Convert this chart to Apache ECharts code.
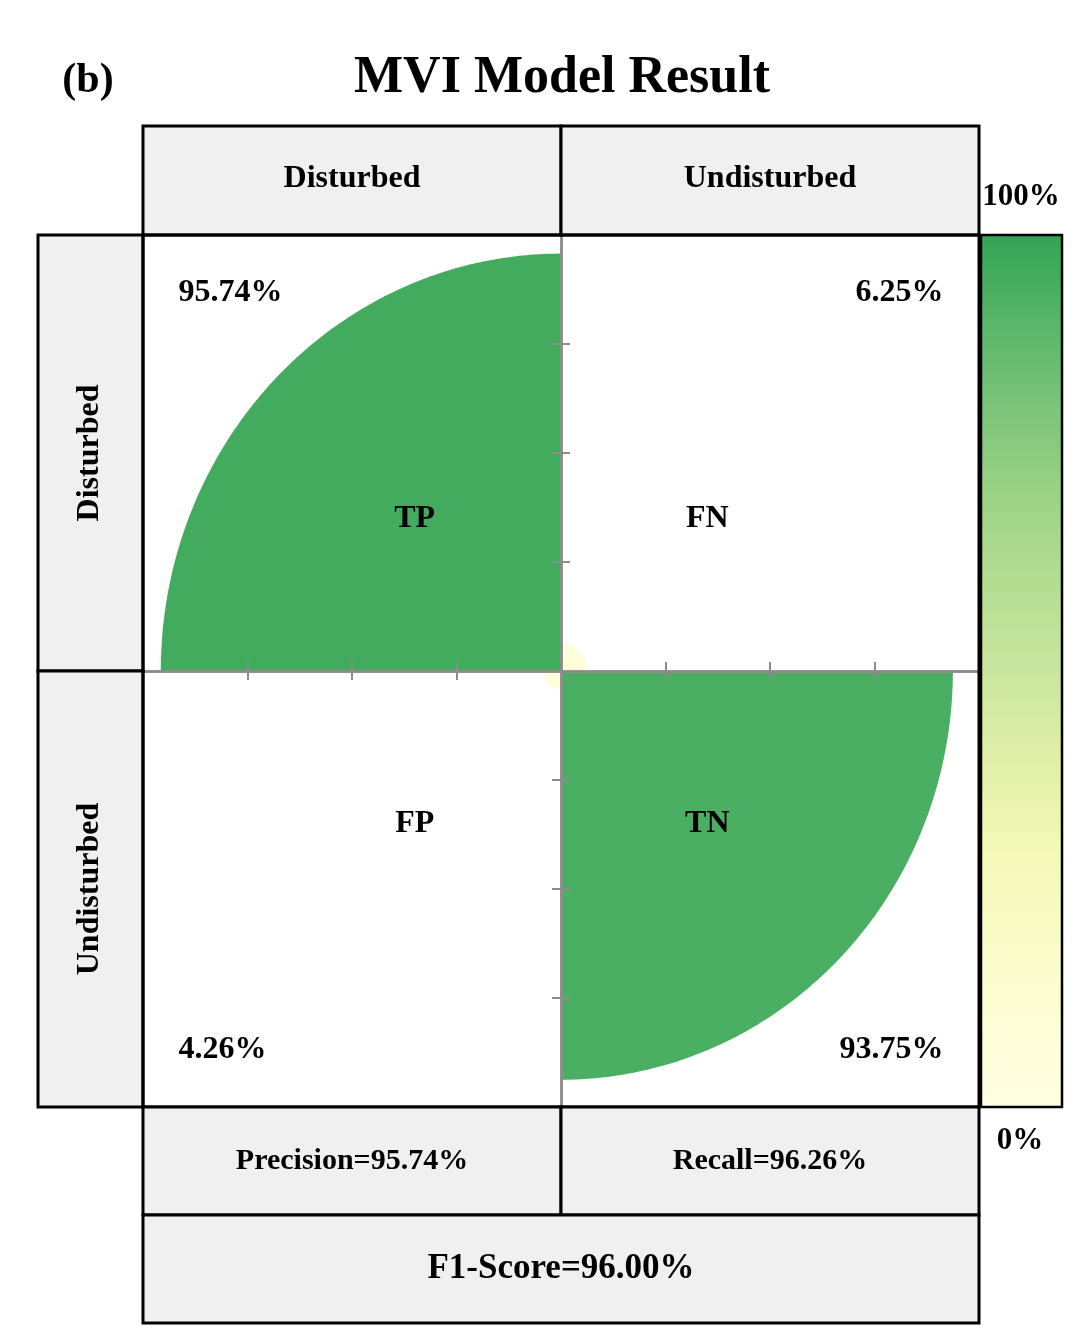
<!DOCTYPE html>
<html>
<head>
<meta charset="utf-8">
<script src="https://cdn.jsdelivr.net/npm/echarts@6/dist/echarts.min.js"></script>
<style>
html,body{margin:0;padding:0;background:#fff;}
#chart{width:1080px;height:1342px;}
</style>
</head>
<body>
<div id="chart"></div>
<script>
// ---- data ----
const panelTag = '(b)';
const chartTitle = 'MVI Model Result';
const classNames = ['Disturbed', 'Undisturbed'];
const cellNames = ['TP', 'FN', 'FP', 'TN'];
const cellRows = [0, 0, 1, 1];
const cellCols = [0, 1, 0, 1];
const cellPercents = [95.74, 6.25, 4.26, 93.75];
const metricNames = ['Precision', 'Recall', 'F1-Score'];
const metricValues = [95.74, 96.26, 96.00];
const colorbarLabels = ['100%', '0%'];
const colorStops = ['#ffffe2', '#fdfdd6', '#fafcc6', '#f3f8b6', '#e0efa8', '#c9e69f', '#b4dd92', '#9cd386', '#7cc47a', '#58b66a', '#32a355'];

// ---- layout ----
const G = { left: 143, top: 235, right: 979, bottom: 1107 };
const midX = (G.left + G.right) / 2;
const midY = (G.top + G.bottom) / 2;
const FONT = '"Liberation Serif", "Times New Roman", serif';
const LW = 3;

function txt(x, y, text, size, extra) {
  return Object.assign({
    type: 'text', x: x, y: y, z: 120,
    style: { text: text, fontFamily: FONT, fontWeight: 'bold', fontSize: size, fill: '#000', align: 'center', verticalAlign: 'middle' }
  }, extra || {});
}
function box(x1, y1, x2, y2, fill) {
  return { type: 'rect', z: 110, shape: { x: x1, y: y1, width: x2 - x1, height: y2 - y1 },
    style: { fill: fill || 'none', stroke: '#000', lineWidth: LW } };
}

const chart = echarts.init(document.getElementById('chart'));

function renderItem(params, api) {
  const col = api.value(0), row = api.value(1), v = api.value(2);
  const sx = col === 0 ? -1 : 1;
  const sy = row === 0 ? 1 : -1;
  const r = v / 100;
  const pts = [api.coord([0, 0])];
  for (let i = 0; i <= 90; i++) {
    const a = i * Math.PI / 180;
    pts.push(api.coord([sx * r * Math.cos(a), sy * r * Math.sin(a)]));
  }
  const idx = params.dataIndex;
  const lp = api.coord([sx * 0.35, sy * 0.35]);
  const pp = api.coord([sx * 0.915, sy * 0.868]);
  return {
    type: 'group',
    children: [
      { type: 'polygon', shape: { points: pts }, style: { fill: api.visual('color'), stroke: null } },
      { type: 'text', x: lp[0], y: lp[1], z2: 10,
        style: { text: cellNames[idx], fontFamily: FONT, fontWeight: 'bold', fontSize: 32, fill: '#000', align: 'center', verticalAlign: 'middle' } },
      { type: 'text', x: pp[0], y: pp[1], z2: 10,
        style: { text: v.toFixed(2) + '%', fontFamily: FONT, fontWeight: 'bold', fontSize: 32, fill: '#000', align: sx < 0 ? 'left' : 'right', verticalAlign: 'middle' } }
    ]
  };
}

const axisGray = '#8c8c8c';
const tickVals = [-0.75, -0.5, -0.25, 0.25, 0.5, 0.75];
function mkAxis(position) {
  return {
    type: 'value', min: -1, max: 1, z: 10, position: position,
    axisLine: { show: true, onZero: true, onZeroAxisIndex: 0, lineStyle: { color: axisGray, width: 2.5 } },
    axisTick: { show: true, inside: false, length: 9, customValues: tickVals, lineStyle: { color: axisGray, width: 2 } },
    axisLabel: { show: false },
    splitLine: { show: false }
  };
}

const graphics = [
  txt(88, 81, panelTag, 42),
  txt(562, 79, chartTitle, 52),
  // top header
  box(G.left, 126, midX, G.top, '#f0f0f0'),
  box(midX, 126, G.right, G.top, '#f0f0f0'),
  txt((G.left + midX) / 2, 179, classNames[0], 32),
  txt((midX + G.right) / 2, 179, classNames[1], 32),
  // left header
  box(38, G.top, G.left, midY, '#f0f0f0'),
  box(38, midY, G.left, G.bottom, '#f0f0f0'),
  txt(90, (G.top + midY) / 2, classNames[0], 32, { rotation: Math.PI / 2 }),
  txt(90, (midY + G.bottom) / 2, classNames[1], 32, { rotation: Math.PI / 2 }),
  // main border
  box(G.left, G.top, G.right, G.bottom),
  // bottom metrics
  box(G.left, G.bottom, midX, 1215, '#f0f0f0'),
  box(midX, G.bottom, G.right, 1215, '#f0f0f0'),
  box(G.left, 1215, G.right, 1323, '#f0f0f0'),
  txt((G.left + midX) / 2, 1161, metricNames[0] + '=' + metricValues[0].toFixed(2) + '%', 30),
  txt((midX + G.right) / 2, 1161, metricNames[1] + '=' + metricValues[1].toFixed(2) + '%', 30),
  txt(midX, 1269, metricNames[2] + '=' + metricValues[2].toFixed(2) + '%', 35),
  // colorbar frame and labels
  { type: 'rect', z: 115, shape: { x: 981, y: G.top, width: 81, height: G.bottom - G.top }, style: { fill: 'none', stroke: '#000', lineWidth: 2.5 } },
  txt(1021, 197, colorbarLabels[0], 31),
  txt(1020, 1141, colorbarLabels[1], 31)
];

chart.setOption({
  backgroundColor: '#fff',
  animation: false,
  grid: { left: G.left, top: G.top, width: G.right - G.left, height: G.bottom - G.top, containLabel: false },
  xAxis: [mkAxis('bottom'), mkAxis('top')],
  yAxis: [mkAxis('left'), mkAxis('right')],
  visualMap: {
    type: 'continuous', min: 0, max: 100, dimension: 2, seriesIndex: 0,
    left: 981, top: G.top, itemWidth: 81, itemHeight: G.bottom - G.top,
    calculable: false, hoverLink: false, padding: 0, text: null,
    inRange: { color: colorStops }
  },
  series: [{
    type: 'custom', coordinateSystem: 'cartesian2d', xAxisIndex: 0, yAxisIndex: 0,
    clip: false, z: 2,
    encode: { x: 0, y: 1 },
    renderItem: renderItem,
    data: cellNames.map((n, i) => [cellCols[i], cellRows[i], cellPercents[i]])
  }],
  graphic: graphics
});
</script>
</body>
</html>
